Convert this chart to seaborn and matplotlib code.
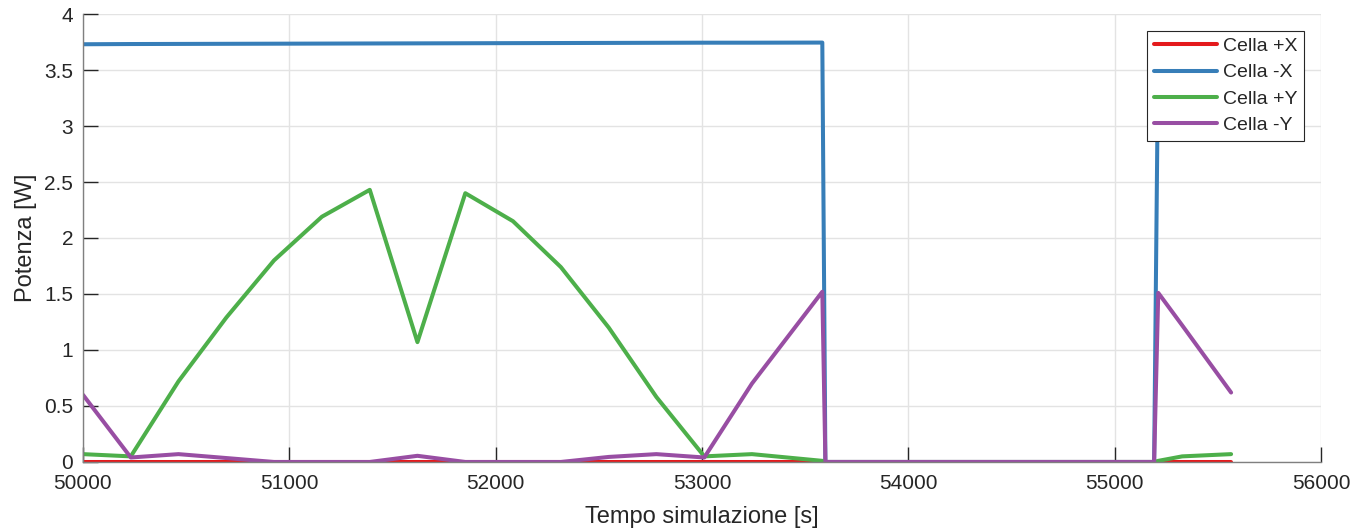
import matplotlib
import numpy as np
import pandas as pd
import matplotlib.pyplot as plt
import seaborn as sns
from matplotlib.ticker import FuncFormatter

matplotlib.use('Agg')

# simulation time [s]
tempo = [50000, 50232, 50463, 50695, 50926, 51158, 51390, 51621, 51853, 52084,
         52316, 52548, 52779, 53011, 53242, 53583, 53598, 55191, 55211, 55327, 55564]

# power per cell [W]
cella_px = [0.0] * 21
cella_mx = [3.73, 3.732, 3.733, 3.734, 3.735, 3.736, 3.737, 3.738, 3.739, 3.740,
            3.741, 3.742, 3.743, 3.744, 3.744, 3.745, 0.0, 0.0, 3.74, 3.74, 3.74]
cella_py = [0.07, 0.05, 0.72, 1.29, 1.80, 2.19, 2.43, 1.07, 2.40, 2.15,
            1.74, 1.20, 0.58, 0.05, 0.07, 0.01, 0.0, 0.0, 0.01, 0.05, 0.07]
cella_my = [0.60, 0.04, 0.07, 0.035, 0.0, 0.0, 0.0, 0.055, 0.0, 0.0,
            0.0, 0.045, 0.07, 0.04, 0.70, 1.52, 0.0, 0.0, 1.51, 1.22, 0.62]

nomi = ['Cella +X', 'Cella -X', 'Cella +Y', 'Cella -Y']
colori = ['#e41a1c', '#377eb8', '#4daf4a', '#984ea3']


def main():
    frames = []
    for nome, valori in zip(nomi, [cella_px, cella_mx, cella_py, cella_my]):
        frames.append(pd.DataFrame({'tempo': tempo, 'potenza': valori, 'cella': nome}))
    data = pd.concat(frames, ignore_index=True)

    sns.set_style('white')
    plt.rcParams['font.family'] = ['Liberation Sans', 'DejaVu Sans']

    fig = plt.figure(figsize=(13.53, 5.31), dpi=100)
    ax = fig.add_axes([0.0613, 0.130, 0.9151, 0.8436])

    sns.lineplot(data, x='tempo', y='potenza', hue='cella', hue_order=nomi,
                 palette=colori, estimator=None, sort=False, linewidth=2.9, ax=ax)

    ax.set_xlim(50000, 56000)
    ax.set_ylim(0, 4)
    ax.set_xticks(np.arange(50000, 56001, 1000))
    ax.set_yticks(np.arange(0, 4.01, 0.5))
    ax.yaxis.set_major_formatter(FuncFormatter(lambda v, p: '%g' % v))
    ax.grid(True, color='#e3e3e3', linewidth=1.0)
    ax.set_axisbelow(True)

    for side in ['top', 'right']:
        ax.spines[side].set_visible(False)
    for side in ['left', 'bottom']:
        ax.spines[side].set_color('#808080')
        ax.spines[side].set_linewidth(1.0)

    ax.tick_params(bottom=True, left=True, direction='in', length=11, width=1,
                   color='#262626', labelsize=15, labelcolor='#262626')
    ax.tick_params(axis='x', pad=9)
    ax.tick_params(axis='y', pad=7)
    ax.set_xlabel('Tempo simulazione [s]', fontsize=17, color='#262626', labelpad=9)
    ax.set_ylabel('Potenza [W]', fontsize=17, color='#262626', labelpad=5)

    leg = ax.legend(loc='upper right', bbox_to_anchor=(0.9866, 0.963), fontsize=14,
                    handlelength=3.25, frameon=True, fancybox=False, framealpha=1,
                    borderpad=0.35, labelspacing=0.45, handletextpad=0.3,
                    borderaxespad=0)
    leg.get_frame().set_edgecolor('#262626')
    leg.get_frame().set_linewidth(0.8)
    for line in leg.get_lines():
        line.set_linewidth(2.9)

    plt.savefig('out.png', dpi=100)


if __name__ == '__main__':
    main()
